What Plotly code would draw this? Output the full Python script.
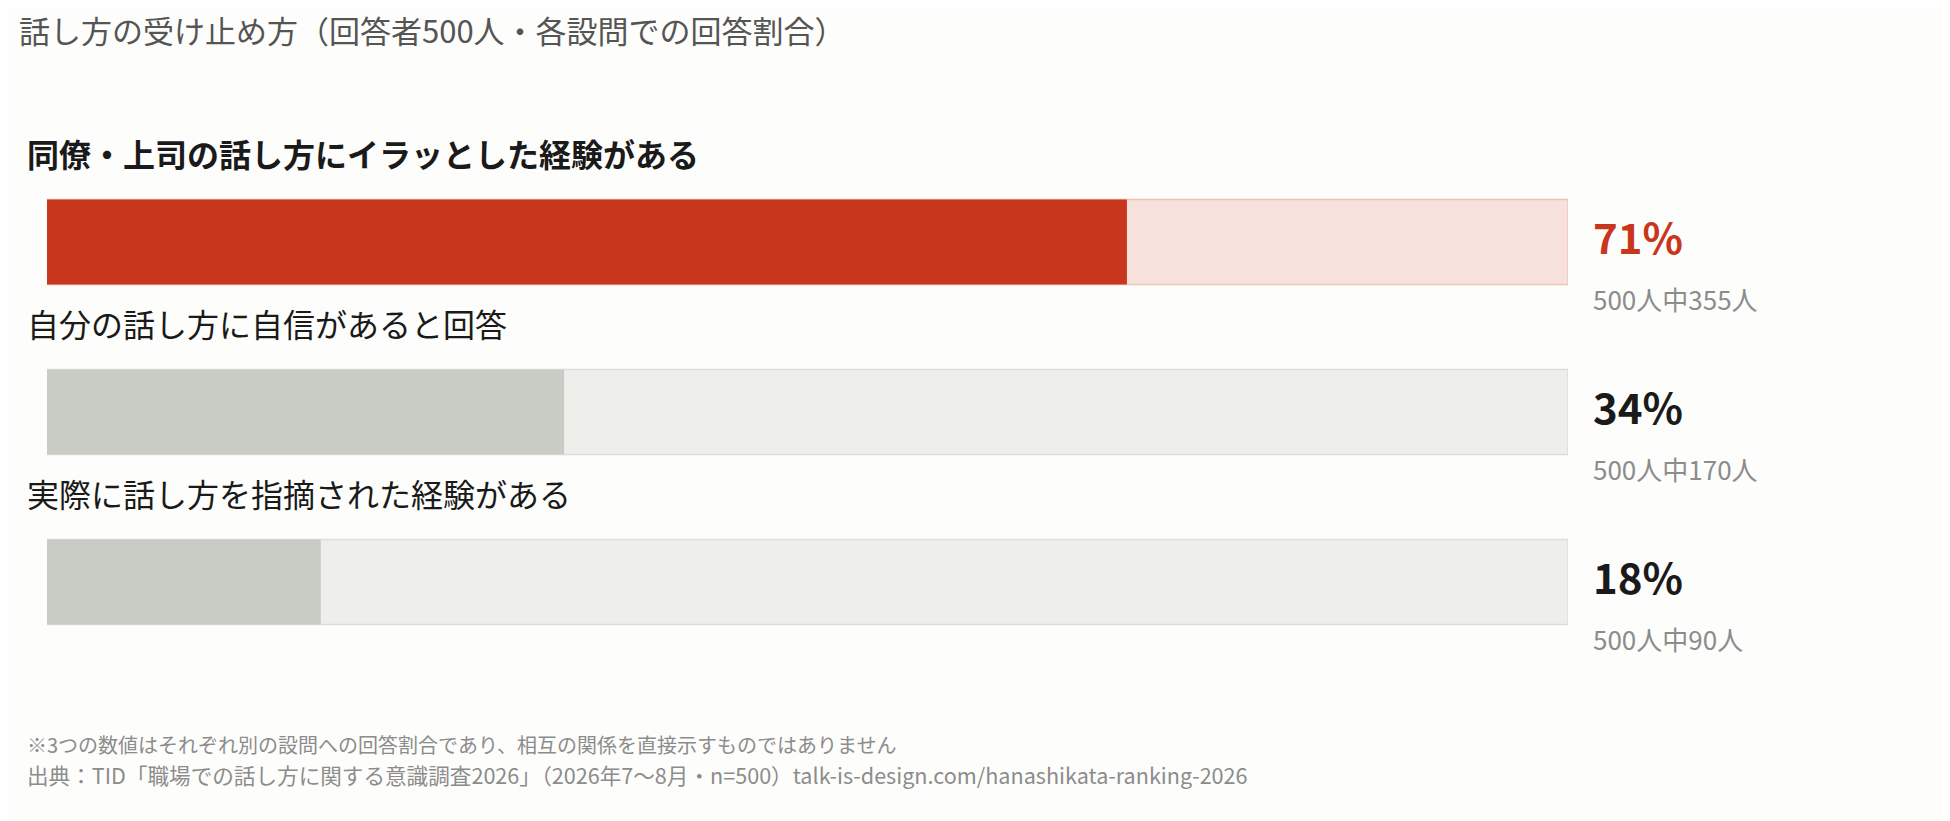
import plotly.graph_objects as go

# data
questions = [
    "同僚・上司の話し方にイラッとした経験がある",
    "自分の話し方に自信があると回答",
    "実際に話し方を指摘された経験がある",
]
percents = [71, 34, 18]
counts = [355, 170, 90]
total = 500
highlight = [True, False, False]

title_text = "話し方の受け止め方（回答者500人・各設問での回答割合）"
note_text = "※3つの数値はそれぞれ別の設問への回答割合であり、相互の関係を直接示すものではありません"
source_text = "出典：TID「職場での話し方に関する意識調査2026」（2026年7〜8月・n=500）talk-is-design.com/hanashikata-ranking-2026"

FONT = "Noto Sans CJK JP"
BG = "#FDFDFB"
RED = "#C8361E"
RED_LIGHT = "#F7E1DC"
RED_EDGE = "#F1C2B8"
GREY = "#C9CCC4"
GREY_LIGHT = "#EEEEEA"
GREY_EDGE = "#DEDED9"

pos = list(range(len(questions)))

fig = go.Figure()

# background tracks (100%)
fig.add_trace(go.Bar(
    x=[100] * len(questions),
    y=pos,
    orientation="h",
    width=0.5,
    marker=dict(
        color=[RED_LIGHT if h else GREY_LIGHT for h in highlight],
        line=dict(color=[RED_EDGE if h else GREY_EDGE for h in highlight], width=1.5),
    ),
    hoverinfo="skip",
    showlegend=False,
))

# value fill
fig.add_trace(go.Bar(
    x=percents,
    y=pos,
    orientation="h",
    width=0.5,
    marker=dict(
        color=[RED if h else GREY for h in highlight],
        line=dict(width=0),
    ),
    hovertemplate="%{x}%<extra></extra>",
    showlegend=False,
))

annotations = []
for i, q in enumerate(questions):
    annotations.append(dict(
        x=0, y=i, xref="x", yref="y",
        text=f"<b>{q}</b>" if highlight[i] else q,
        showarrow=False, xanchor="left", yanchor="middle",
        xshift=-22, yshift=89,
        font=dict(family=FONT, size=32, color="#1a1a1a"),
    ))
    annotations.append(dict(
        x=100, y=i, xref="x", yref="y",
        text=f"<b>{percents[i]}%</b>",
        showarrow=False, xanchor="left", yanchor="middle",
        xshift=23, yshift=7,
        font=dict(family=FONT, size=42, color=RED if highlight[i] else "#1a1a1a"),
    ))
    annotations.append(dict(
        x=100, y=i, xref="x", yref="y",
        text=f"{total}人中{counts[i]}人",
        showarrow=False, xanchor="left", yanchor="middle",
        xshift=23, yshift=-56,
        font=dict(family=FONT, size=26, color="#8c8c8c"),
    ))

annotations.append(dict(
    x=0, y=0, xref="paper", yref="paper",
    text=note_text, showarrow=False, xanchor="left", yanchor="middle",
    xshift=-22, yshift=-77,
    font=dict(family=FONT, size=20, color="#8c8c8c"),
))
annotations.append(dict(
    x=0, y=0, xref="paper", yref="paper",
    text=source_text, showarrow=False, xanchor="left", yanchor="middle",
    xshift=-22, yshift=-107,
    font=dict(family=FONT, size=21.6, color="#8c8c8c"),
))

fig.update_layout(
    width=1950,
    height=821,
    barmode="overlay",
    paper_bgcolor=BG,
    plot_bgcolor=BG,
    margin=dict(l=39, r=390, t=149, b=162),
    title=dict(
        text=title_text,
        x=11 / 1950, xanchor="left",
        y=1 - 24 / 821, yanchor="middle",
        font=dict(family=FONT, size=31, color="#555555"),
    ),
    xaxis=dict(range=[0, 100], visible=False, fixedrange=True),
    yaxis=dict(range=[2.5, -0.5], visible=False, fixedrange=True),
    annotations=annotations,
    font=dict(family=FONT),
)

fig.write_html("out.html")
